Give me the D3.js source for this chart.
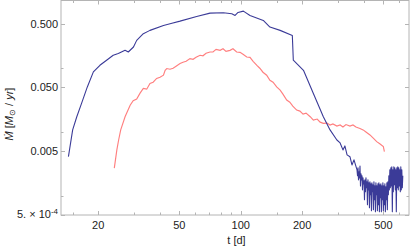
<!DOCTYPE html>
<html><head><meta charset="utf-8">
<script src="https://cdnjs.cloudflare.com/ajax/libs/d3/7.8.5/d3.min.js"></script>
<style>body{margin:0;background:#fff}svg{display:block}</style>
</head><body>
<svg id="c" width="411" height="247"></svg>
<script>
const tBlueHead = [14.3,15.0,15.7,16.6,17.7,18.95,20.4,22.0,23.7,25.1,27.1,28.1,29.8,30.9,33.3,35.9,41.8,46,50.4,60.8,70.7,82.2,90.4,93.8,97.0,103,111,129,139,156,179,181,203,227,254,274,296,307,317,324,332,343,351,359];
const mBlueHead = [0.00412,0.0108,0.0172,0.0284,0.051,0.0877,0.1114,0.1336,0.160,0.170,0.191,0.180,0.2155,0.274,0.349,0.393,0.470,0.51,0.549,0.650,0.733,0.743,0.716,0.674,0.751,0.787,0.674,0.563,0.443,0.393,0.328,0.134,0.093,0.0403,0.0174,0.0108,0.0075,0.00674,0.00525,0.00606,0.00439,0.0041,0.00305,0.00366];
const tBlueTail = [371.5,373.6,375.7,377.8,379.9,382.0,384.2,386.4,388.6,390.8,393.0,395.2,397.4,399.6,401.9,404.2,406.4,408.7,411.0,413.3,415.6,418.0,420.3,422.7,425.1,427.5,429.9,432.3,434.7,437.2,439.6,442.1,444.6,447.1,449.6,452.1,454.7,457.3,459.8,462.4,465.0,467.6,470.3,473.0,475.6,478.3,480.9,483.6,486.4,489.1,491.9,494.7,497.4,500.2,503.0,505.8,508.7,511.6,514.5,517.4,520.3,523.2,526.2,529.2,532.1,535.1,538.1,541.1,544.2,547.3,550.4,553.5,556.6,559.7,562.9,566.1,569.3,572.5,575.7,578.9,582.2,585.5,588.8,592.1,595.5,598.8,602.2,605.6,609.0,612.4,615.9,619.4,622.9];
const mBlueTail = [0.00255,0.00206,0.00274,0.00178,0.00238,0.00191,
 0.00294,0.00143,0.00221,0.00178,0.00206,0.00124,
 0.00191,0.00154,0.00172,0.000867,0.00178,0.00116,
 0.00191,0.00134,0.00166,0.000724,0.00178,0.00124,
 0.00160,0.00065,0.00166,0.00104,0.00154,0.000583,
 0.00160,0.00116,0.00149,0.000605,0.00166,0.000867,
 0.00143,0.000563,0.00160,0.00104,0.00143,0.000583,
 0.00154,0.000724,0.00160,0.000563,0.00149,0.000933,
 0.00154,0.000563,0.00143,0.000867,0.00160,0.000583,
 0.00143,0.000724,0.00154,0.000563,0.00138,0.000867,
 0.00160,0.000605,0.00166,0.00104,0.00206,0.00124,
 0.00255,0.00134,0.00274,0.00143,0.00284,0.000563,
 0.00255,0.00116,0.00284,0.00149,0.00274,0.00124,
 0.00255,0.000563,0.00274,0.00134,0.00284,0.00124,
 0.00274,0.00143,0.00255,0.00116,0.00284,0.00124,
 0.00255,0.00134,0.00206];

const tRed = [24.0,24.7,25.2,25.8,27.1,28.7,29.7,30.9,32.1,33.3,34.6,35.9,37.2,38.7,40.2,41.8,42.6,43.4,45.0,46.6,48.2,50.4,52.1,54.0,56.4,58.4,60.4,63.2,65.3,67.6,70.7,73.1,75.7,79.2,81.9,84.7,88.6,91.6,95.5,99.2,102.6,107,111,115,120,124,128.5,134,139,144,150,156,161,168,174,180,188,195,202,209,219,227,237,245,254,265,274,283,296,307,317,328,343,355,367,384,398,411,430,445,464,482,500,506];
const mRed = [0.00271,0.00524,0.0075,0.0108,0.0174,0.0264,0.0311,0.0328,0.0407,0.0482,0.0470,0.0578,0.0605,0.0692,0.0725,0.0778,0.0931,0.0990,0.0966,0.1002,0.1077,0.1186,0.1242,0.1288,0.1419,0.1384,0.1486,0.160,0.157,0.172,0.180,0.181,0.198,0.191,0.202,0.1845,0.191,0.202,0.180,0.178,0.1655,0.150,0.1486,0.1288,0.1114,0.1002,0.0867,0.0778,0.0650,0.0605,0.0510,0.0454,0.0393,0.0317,0.0294,0.0255,0.0221,0.0213,0.0191,0.0198,0.0174,0.0154,0.0160,0.0143,0.0137,0.0138,0.0129,0.0134,0.0124,0.0129,0.0120,0.0131,0.0124,0.0129,0.0120,0.0114,0.0108,0.0100,0.0090,0.0081,0.00706,0.0065,0.0059,0.00493];

const xMajor = [20,50,100,200,500];
const xMajorLabels = ["20","50","100","200","500"];
const xMinor = [15,30,40,60,70,80,90,150,300,400,600];
const yMajor = [0.0005,0.005,0.05,0.5];
const yMajorLabels = ["5. × 10","0.005","0.050","0.500"];
const yMinor = [0.001,0.01,0.1];

const tBlue = tBlueHead.concat(tBlueTail);
const mBlue = mBlueHead.concat(mBlueTail);

const L=61, R=409, T=0.5, B=215;
const x = d3.scaleLog().domain([13.15,668]).range([L,R]);
const y = d3.scaleLog().domain([0.0005,1.156]).range([B,T]);
const svg = d3.select("#c");
const frameCol = "#b4b4b4";

const line = d3.line().x(d=>x(d[0])).y(d=>y(d[1]));
svg.append("clipPath").attr("id","cp").append("rect").attr("x",L).attr("y",T).attr("width",R-L).attr("height",B-T);
svg.append("path").datum(d3.zip(tRed,mRed)).attr("d",line).attr("fill","none")
  .attr("stroke","#ff7f7f").attr("stroke-width",1.15).attr("clip-path","url(#cp)");
svg.append("path").datum(d3.zip(tBlue,mBlue)).attr("d",line).attr("fill","none")
  .attr("stroke","#3b3b98").attr("stroke-width",1.1).attr("stroke-linejoin","round").attr("clip-path","url(#cp)");

svg.append("rect").attr("x",L).attr("y",T).attr("width",R-L).attr("height",B-T)
  .attr("fill","none").attr("stroke",frameCol).attr("stroke-width",1);

const g = svg.append("g").attr("stroke",frameCol).attr("stroke-width",1);
function xt(v,len){
  const px = Math.round(x(v))+0.5;
  g.append("line").attr("x1",px).attr("x2",px).attr("y1",B).attr("y2",B-len);
  g.append("line").attr("x1",px).attr("x2",px).attr("y1",T).attr("y2",T+len);
}
function yt(v,len){
  const py = Math.round(y(v))+0.5;
  g.append("line").attr("x1",L).attr("x2",L+len).attr("y1",py).attr("y2",py);
  g.append("line").attr("x1",R).attr("x2",R-len).attr("y1",py).attr("y2",py);
}
xMajor.forEach(v=>xt(v,4)); xMinor.forEach(v=>xt(v,2.5));
yMajor.forEach(v=>yt(v,4)); yMinor.forEach(v=>yt(v,2.5));

const font = "'Liberation Sans', Arial, sans-serif";
const txt = svg.append("g").attr("font-family",font).attr("font-size",11).attr("fill","#222");
xMajor.forEach((v,i)=>{
  txt.append("text").attr("x",x(v)).attr("y",228.5).attr("text-anchor","middle").text(xMajorLabels[i]);
});
yMajor.forEach((v,i)=>{
  const t = txt.append("text").attr("x",58).attr("y",y(v)+4).attr("text-anchor","end");
  if(i===0){
    t.attr("y",y(v)+3).attr("xml:space","preserve");
    t.append("tspan").text(yMajorLabels[i]);
    t.append("tspan").attr("dy",-4).attr("font-size",8).text("-4");
  } else t.text(yMajorLabels[i]);
});
txt.append("text").attr("x",236.5).attr("y",243.5).attr("text-anchor","middle").text("t [d]");
const yl = txt.append("text").attr("transform","translate(12.5,114) rotate(-90)").attr("text-anchor","middle");
yl.append("tspan").attr("font-style","italic").text("Ṁ");
yl.append("tspan").text(" [");
yl.append("tspan").attr("font-style","italic").text("M");
yl.append("tspan").attr("font-size",8).attr("dy",2).text("⊙");
yl.append("tspan").attr("dy",-2).text(" / ");
yl.append("tspan").attr("font-style","italic").text("yr");
yl.append("tspan").text("]");
</script>
</body></html>
